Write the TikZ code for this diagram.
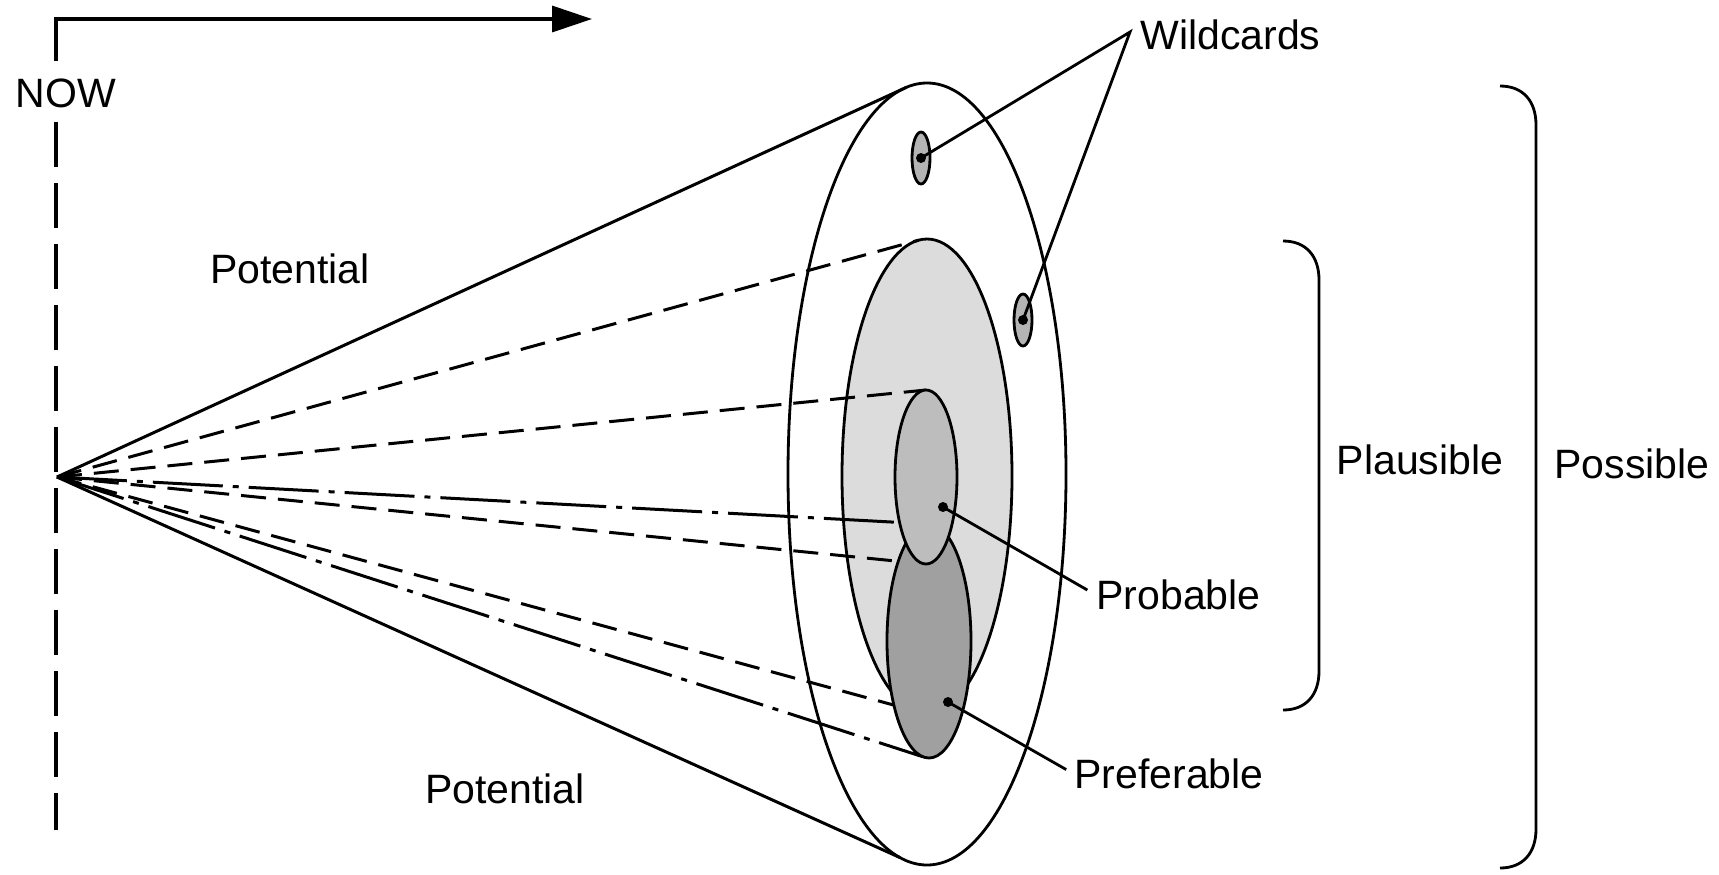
\documentclass[tikz,border=0pt]{standalone}
\usepackage{fontspec}
\setmainfont{Liberation Sans}
\usetikzlibrary{arrows.meta,shapes.geometric}
\pgfdeclarelayer{bg}
\pgfdeclarelayer{mid}
\pgfsetlayers{bg,mid,main}
\definecolor{plausgray}{HTML}{DCDCDC}
\definecolor{probgray}{HTML}{BDBDBD}
\definecolor{prefgray}{HTML}{A0A0A0}
\definecolor{wildgray}{HTML}{B4B4B4}
\begin{document}
\begin{tikzpicture}[x=0.5pt,y=-0.5pt,
  ell/.style={ellipse, draw=black, line width=1.4pt, inner sep=0pt, outer sep=0pt},
  cone/.style={line width=1.5pt},
  dashline/.style={line width=1.5pt, dash pattern=on 12.5pt off 6pt},
  dotdash/.style={line width=1.5pt, dash pattern=on 35pt off 5pt on 3pt off 5pt},
  timeline/.style={line width=1.6pt, dash pattern=on 22.5pt off 8pt},
  lbl/.style={font=\fontsize{20.5}{24}\selectfont, inner sep=0pt},
  dotn/.style={circle, fill=black, inner sep=0pt, minimum size=5pt},
  leader/.style={line width=1.4pt},
  bracestyle/.style={line width=1.4pt}]

\useasboundingbox (0,0) rectangle (1719,874);

% time axis
\coordinate (apex) at (57,477);
\coordinate (nowtop) at (56,61);
\coordinate (corner) at (56,19);
\coordinate (timeend) at (592,19);
\coordinate (nowlow) at (56,122);
\coordinate (nowbottom) at (56,830);
\draw[line width=1.7pt, -{Triangle[length=20pt,width=13pt]}] (nowtop) -- (corner) -- (timeend);
\draw[timeline] (nowlow) -- (nowbottom);
\node[lbl] (now) at (66,93) {NOW};

% ellipses on background
\begin{pgfonlayer}{bg}
\node[ell, fill=white, minimum width=139pt, minimum height=391pt] (outer) at (927,474) {};
\node[ell, fill=plausgray, minimum width=85pt, minimum height=237pt] (plaus) at (927,476) {};
\end{pgfonlayer}

\node[ell, fill=prefgray, minimum width=42pt, minimum height=117pt] (pref) at (929,641) {};
\node[ell, fill=probgray, minimum width=31pt, minimum height=87pt] (prob) at (926,477) {};

% cone lines
\begin{pgfonlayer}{mid}
\draw[cone] (apex) -- (outer.93.26);
\draw[cone] (apex) -- (outer.266.74);
\draw[dashline] (apex) -- (plaus.92.0);
\draw[dashline] (apex) -- (plaus.268.0);
\draw[dashline] (apex) -- (prob.90.7);
\draw[dashline] (apex) -- (prob.269.3);
\draw[dotdash] (apex) -- (pref.89.6);
\draw[dotdash] (apex) -- (pref.267.6);
\end{pgfonlayer}

% wildcards
\node[ell, fill=wildgray, minimum width=9pt, minimum height=26pt] (wc1) at (921,158) {};
\node[ell, fill=wildgray, minimum width=9pt, minimum height=26pt] (wc2) at (1023,320) {};
\node[dotn] (wc1dot) at (921,158) {};
\node[dotn] (wc2dot) at (1023,320) {};
\coordinate (wcjoin) at (1130,32);
\draw[leader] (wc1dot.center) -- (wcjoin) -- (wc2dot.center);
\node[lbl, anchor=west] (wildlbl) at (1140,35) {Wildcards};

% probable / preferable leaders
\node[dotn] (probdot) at (943,507) {};
\node[dotn] (prefdot) at (948,702) {};
\node[lbl, anchor=west] (problbl) at (1096,595) {Probable};
\node[lbl, anchor=west] (preflbl) at (1074,774) {Preferable};
\draw[leader, shorten >=5pt] (probdot.center) -- (problbl.west);
\draw[leader, shorten >=4.5pt] (prefdot.center) -- (preflbl.west);

% brackets
\coordinate (plA) at (1283,241);
\coordinate (plB) at (1283,710);
\draw[bracestyle] (plA) .. controls (1306,241) and (1319,256) .. (1319,280)
  -- (1319,671) .. controls (1319,695) and (1306,710) .. (plB);
\coordinate (poA) at (1500,86);
\coordinate (poB) at (1500,868);
\draw[bracestyle] (poA) .. controls (1523,86) and (1536,101) .. (1536,125)
  -- (1536,829) .. controls (1536,853) and (1523,868) .. (poB);

\node[lbl] (plauslbl) at (1420,460) {Plausible};
\node[lbl] (posslbl) at (1632,464) {Possible};
\node[lbl] (pot1) at (290,269) {Potential};
\node[lbl] (pot2) at (505,789) {Potential};
\end{tikzpicture}
\end{document}
